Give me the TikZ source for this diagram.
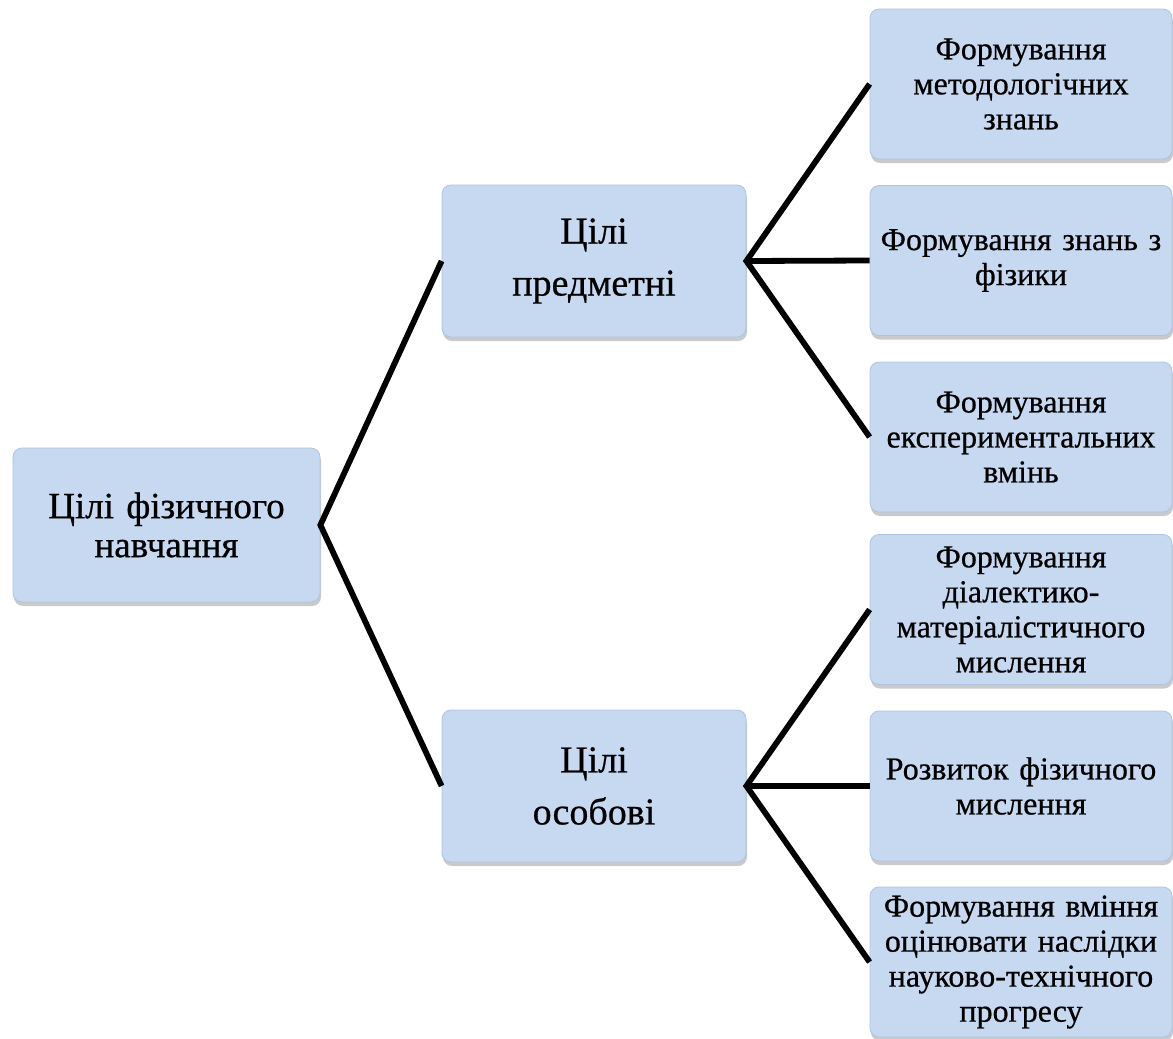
\documentclass[tikz,border=0pt]{standalone}
\usepackage{fontspec}
\setmainfont{Liberation Serif}[FakeBold=0.6]
\usetikzlibrary{shadows}
\definecolor{boxfill}{HTML}{C6D9F1}
\definecolor{boxedge}{HTML}{AEC4DE}
\tikzset{
  x=1pt, y=1pt,
  goal/.style={draw=boxedge, line width=0.8pt, fill=boxfill, rounded corners=9pt,
    minimum width=#1, inner sep=4pt, align=center,
    drop shadow={shadow xshift=1pt, shadow yshift=-4pt, opacity=0.35, fill=black!60}},
  rootbox/.style={goal=307pt, minimum height=154pt, font=\fontsize{37}{39}\selectfont, text width=290pt},
  midbox/.style={goal=304pt, minimum height=152pt, font=\fontsize{38}{52}\selectfont, text width=290pt},
  leafbox/.style={goal=302pt, minimum height=150pt, font=\fontsize{32}{35}\selectfont, text width=293pt},
  link/.style={line width=5.8pt, line join=miter, line cap=butt}
}
\begin{document}
\begin{tikzpicture}
\useasboundingbox (0,0) rectangle (1173,-1039);
\node[rootbox] (root) at (166.5,-525) {Цілі фізичного\\навчання};
\node[midbox] (subj) at (594,-261) {Цілі\\предметні};
\node[midbox] (pers) at (594,-786) {Цілі\\особові};
\node[leafbox] (l1) at (1021,-84) {Формування\\методологічних\\знань};
\node[leafbox] (l2) at (1021,-260.5) {Формування знань з\\фізики};
\node[leafbox] (l3) at (1021,-437) {Формування\\експериментальних\\вмінь};
\node[leafbox] (l4) at (1021,-609.5) {Формування\\діалектико-\\матеріалістичного\\мислення};
\node[leafbox] (l5) at (1021,-786) {Розвиток фізичного\\мислення};
\node[leafbox] (l6) at (1021,-962) {Формування вміння\\оцінювати наслідки\\науково-технічного\\прогресу};
\draw[link] (subj.west) -- (root.east) -- (pers.west);
\draw[link] (l1.west) -- (subj.east) -- (l3.west);
\draw[link] (subj.east) -- (l2.west);
\draw[link] (l4.west) -- (pers.east) -- (l6.west);
\draw[link] (pers.east) -- (l5.west);
\end{tikzpicture}
\end{document}
